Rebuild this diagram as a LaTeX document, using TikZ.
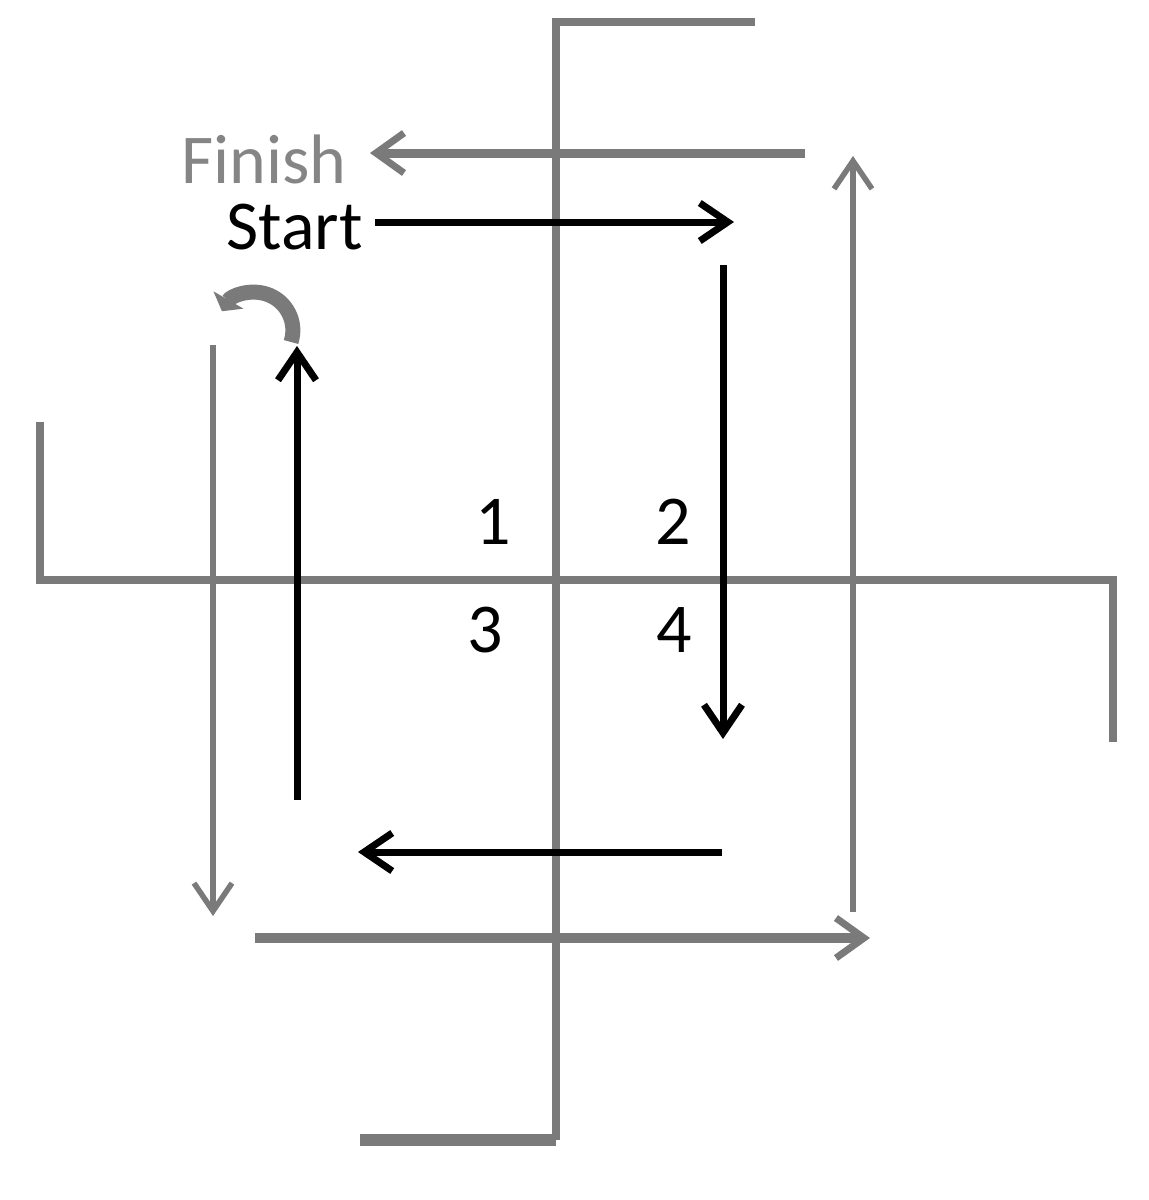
\documentclass[tikz,border=0pt]{standalone}
\usepackage{fontspec}
\setmainfont{Carlito}
\usetikzlibrary{arrows.meta}
\definecolor{sgray}{HTML}{7A7A7A}
\definecolor{fgray}{HTML}{858585}
\begin{document}
\begin{tikzpicture}[x=1pt,y=-1pt,
  frame/.style={draw=sgray,line width=8.5pt},
  garrow/.style={draw=sgray,line width=9pt,-{Straight Barb[length=28pt,width=40pt,line width=7pt]}},
  thinarrow/.style={draw=sgray,line width=5.5pt,-{Straight Barb[length=28pt,width=38pt,line width=5.5pt]}},
  barrow/.style={draw=black,line width=7pt,-{Straight Barb[length=28pt,width=38pt,line width=7pt]}},
  lbl/.style={font=\fontsize{70}{84}\selectfont,inner sep=0pt,anchor=base}]
\useasboundingbox (0,0) rectangle (1149,1200);
% frame (gray cross with bent arms)
\draw[frame] (755,22) -- (556,22) -- (556,1140);
\draw[frame,line width=12pt] (360,1140) -- (556,1140);
\draw[frame] (40,422) -- (40,580) -- (1113,580) -- (1113,742);
% coordinates
\coordinate (f1) at (805,153); \coordinate (f2) at (370,153);
\coordinate (r1) at (853,912); \coordinate (r2) at (853,156);
\coordinate (b1) at (255,938); \coordinate (b2) at (870,938);
\coordinate (l1) at (213,345); \coordinate (l2) at (213,916);
\coordinate (s1) at (375,222); \coordinate (s2) at (734,222);
\coordinate (d1) at (723,265); \coordinate (d2) at (723,739);
\coordinate (w1) at (722,852); \coordinate (w2) at (358,852);
\coordinate (u1) at (297,800); \coordinate (u2) at (297,346);
% labels
\node[lbl,text=fgray,anchor=base east] (fin) at (347,183) {Finish};
\node[lbl,anchor=base east] (start) at (363,249) {Start};
\node[lbl] (n1) at (493,544) {1};
\node[lbl] (n2) at (673,544) {2};
\node[lbl] (n3) at (485,652) {3};
\node[lbl] (n4) at (674,652) {4};
% gray arrows
\draw[garrow] (f1) -- (f2);
\draw[thinarrow] (r1) -- (r2);
\draw[garrow,line width=10pt] (b1) -- (b2);
\draw[thinarrow] (l1) -- (l2);
% black arrows
\draw[barrow] (s1) -- (s2);
\draw[barrow] (d1) -- (d2);
\draw[barrow] (w1) -- (w2);
\draw[barrow] (u1) -- (u2);
% curl
\coordinate (c1) at (291,342);
\draw[draw=sgray,line width=15pt,-{Triangle[length=13pt,width=34pt]}] (c1) arc[start angle=-18,end angle=150,radius=38pt];
\end{tikzpicture}
\end{document}
